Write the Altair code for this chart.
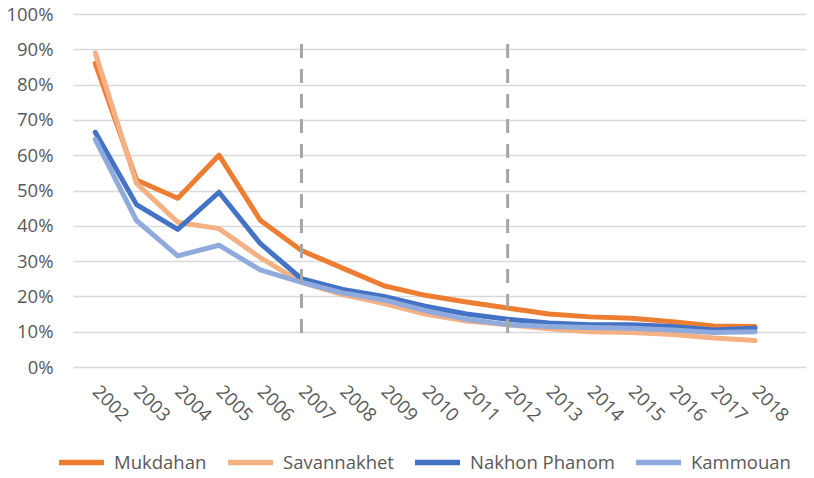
import altair as alt
import pandas as pd

years = list(range(2002, 2019))
series_names = ["Mukdahan", "Savannakhet", "Nakhon Phanom", "Kammouan"]
mukdahan = [0.86, 0.53, 0.478, 0.60, 0.416, 0.33, 0.28, 0.23, 0.203, 0.184, 0.167, 0.15, 0.142, 0.138, 0.128, 0.116, 0.115]
savannakhet = [0.89, 0.52, 0.41, 0.392, 0.31, 0.24, 0.205, 0.18, 0.15, 0.13, 0.12, 0.108, 0.10, 0.098, 0.092, 0.082, 0.075]
nakhon_phanom = [0.665, 0.46, 0.39, 0.495, 0.35, 0.25, 0.22, 0.20, 0.172, 0.15, 0.135, 0.125, 0.12, 0.12, 0.115, 0.105, 0.11]
kammouan = [0.645, 0.415, 0.315, 0.345, 0.275, 0.24, 0.21, 0.19, 0.16, 0.135, 0.12, 0.115, 0.112, 0.11, 0.105, 0.098, 0.10]
colors = ["#ED7D31", "#F4B183", "#4472C4", "#8FAADC"]
marker_years = [2007, 2012]
marker_top = 0.915
marker_bottom = 0.096
y_ticks = [0.0, 0.1, 0.2, 0.3, 0.4, 0.5, 0.6, 0.7, 0.8, 0.9, 1.0]

rows = []
for name, vals in zip(series_names, [mukdahan, savannakhet, nakhon_phanom, kammouan]):
    for yr, v in zip(years, vals):
        rows.append({"year": yr, "value": v, "series": name, "idx": series_names.index(name)})
df = pd.DataFrame(rows)
marks_df = pd.DataFrame({"year": marker_years, "top": [marker_top] * 2, "bottom": [marker_bottom] * 2})

FONT = "Open Sans"
GRAY = "#595959"

x_scale = alt.Scale(domain=[2001.46, 2019.235], nice=False, zero=False)
y_scale = alt.Scale(domain=[0, 1], nice=False)
x_axis = alt.Axis(values=years, format="d", labelAngle=45, labelAlign="left",
                  labelBaseline="middle", grid=False, domain=False, ticks=False,
                  labelFlush=False, labelOverlap=False, labelPadding=21,
                  labelFont=FONT, labelFontSize=18.5, labelColor=GRAY, title=None)
y_axis = alt.Axis(values=y_ticks, format=".0%", grid=True,
                  gridColor="#D9D9D9", gridWidth=1.5, domain=False, ticks=False,
                  labelOverlap=False, labelFlush=False,
                  labelPadding=20, labelFont=FONT, labelFontSize=18.5, labelColor=GRAY, title=None)

lines = alt.Chart(df).mark_line(strokeWidth=5, strokeCap="round", strokeJoin="round").encode(
    x=alt.X("year:Q", scale=x_scale, axis=x_axis),
    y=alt.Y("value:Q", scale=y_scale, axis=y_axis),
    color=alt.Color("series:N", scale=alt.Scale(domain=series_names, range=colors), sort=series_names,
                    legend=alt.Legend(title=None, orient="none", direction="horizontal",
                                      legendX=-17, legendY=423, symbolType="stroke",
                                      symbolSize=2025, symbolStrokeWidth=5.5, labelOffset=7,
                                      columnPadding=10, padding=0, gridAlign="none",
                                      labelFont=FONT, labelFontSize=18.5, labelColor=GRAY)),
    order="year:Q",
    detail="idx:O",
)

rules = alt.Chart(marks_df).mark_rule(color="#A6A6A6", strokeWidth=3, strokeDash=[14, 11]).encode(
    x=alt.X("year:Q", scale=x_scale, axis=x_axis),
    y=alt.Y("top:Q", scale=y_scale, axis=y_axis),
    y2="bottom:Q",
)

chart = alt.layer(lines, rules).properties(
    width=733, height=353,
    autosize=alt.AutoSizeParams(type="none"),
    padding={"left": 65, "top": 6, "right": 0, "bottom": 103},
).configure_view(stroke=None)

chart.save("out.html", embed_options={"renderer": "svg", "actions": False})
